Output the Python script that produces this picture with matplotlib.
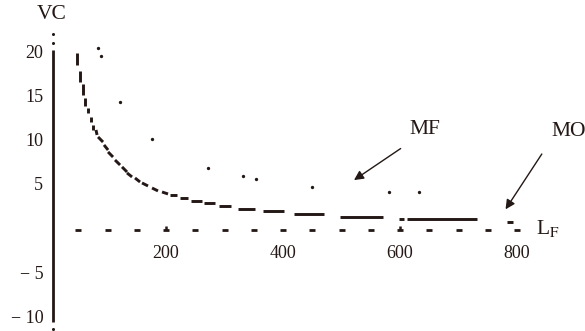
#
#  Break-even style sketch: VC against L_F, with the MF curve
#  (drawn as short dashes), a few scattered MF points and the MO point.
#
import numpy as np
import matplotlib
matplotlib.use('Agg')
import matplotlib.pyplot as plt
from matplotlib.collections import LineCollection

plt.rcParams['font.family'] = ['Liberation Serif', 'DejaVu Serif']
plt.rcParams['mathtext.fontset'] = 'stix'
ink = '#231815'

# MF curve, one dash per entry (start -> end)
curve_lf_start = [48.4, 53.0, 57.6, 62.1, 66.7, 71.3, 75.7, 80.3, 83.8, 94.0,
                  100.9, 112.8, 124.8, 133.3, 147.0, 159.0, 176.1, 193.2, 206.8, 223.9,
                  242.7, 265.0, 290.6, 323.1, 365.8, 418.8, 497.4, 598.3, 612.0]
curve_lf_end = [48.4, 53.0, 57.6, 62.1, 66.7, 71.3, 75.7, 82.1, 92.3, 100.9,
                109.4, 121.4, 133.3, 141.9, 155.6, 169.2, 186.3, 203.4, 218.8, 237.6,
                261.5, 283.8, 311.1, 352.1, 401.7, 470.1, 570.9, 606.8, 731.6]
curve_vc_start = [20.04, 18.01, 16.51, 14.97, 13.80, 12.82, 11.88, 11.32, 10.53, 9.63,
                  8.84, 7.93, 7.15, 6.47, 5.90, 5.34, 4.77, 4.32, 3.98, 3.65,
                  3.34, 3.08, 2.74, 2.44, 2.18, 1.84, 1.53, 1.28, 1.28]
curve_vc_end = [18.65, 16.77, 15.27, 14.03, 13.23, 12.26, 11.32, 10.76, 9.96, 9.06,
                8.27, 7.37, 6.58, 6.02, 5.45, 5.00, 4.44, 4.10, 3.98, 3.65,
                3.34, 3.08, 2.74, 2.44, 2.18, 1.84, 1.53, 1.28, 1.28]

# scattered points above the curve
dots_lf = [84.3, 88.9, 121.4, 175.6, 272.3, 331.1, 353.8, 450.1, 581.7, 633.0]
dots_vc = [20.61, 19.67, 14.51, 10.30, 7.00, 6.13, 5.79, 4.89, 4.29, 4.29]

# MO mark
mo_lf = [783.0, 793.0]
mo_vc = [0.97, 0.97]

# axes
y_axis_lf = 6.8
y_axis_range = [-10.34, 20.35]
y_axis_dots = [22.16, 21.14, -11.12]
x_dash_lf = np.arange(50, 801, 50)
x_ticks = [200, 400, 600, 800]
x_tick_marks = [200, 600]
y_ticks = [20, 15, 10, 5, -5, -10]
y_tick_labels = ['20', '15', '10', '5', '\u2212 5', '\u2212 10']

fig = plt.figure(figsize=(5.85, 3.31), dpi=100)
ax = fig.add_axes([0, 0, 1, 1])
ax.set_xlim(-83.8, 916.2)
ax.set_ylim(-11.37, 25.99)
ax.axis('off')

# y axis as a thick line plus the loose dots at its ends
ax.plot([y_axis_lf, y_axis_lf], y_axis_range, color=ink, lw=2.0, solid_capstyle='butt')
ax.plot([y_axis_lf] * len(y_axis_dots), y_axis_dots, 'o', color=ink, ms=2.2, mew=0)

# x axis is just short dashes every 50
ax.plot(x_dash_lf, np.zeros(len(x_dash_lf)), '_', color=ink, ms=4.0, mew=2.0)
ax.plot(x_tick_marks, np.full(len(x_tick_marks), 0.25), '|', color=ink, ms=2.5, mew=1.8)

# MF curve
segs = [[(a, c), (b, d)] for a, b, c, d in
        zip(curve_lf_start, curve_lf_end, curve_vc_start, curve_vc_end)]
ax.add_collection(LineCollection(segs, colors=ink, linewidths=2.1, capstyle='butt'))
ax.plot(dots_lf, dots_vc, 'o', color=ink, ms=2.4, mew=0)
ax.plot(mo_lf, mo_vc, '-', color=ink, lw=2.1, solid_capstyle='butt')

# tick labels
for v, s in zip(y_ticks, y_tick_labels):
    ax.text(-10, v, s, ha='right', va='center', fontsize=13, color=ink)
for v in x_ticks:
    ax.text(v, -2.6, str(v), ha='center', va='center', fontsize=13, color=ink)

ax.text(5, 24.3, 'VC', ha='center', va='center', fontsize=15.5, color=ink)
ax.text(852, 0.2, r'L$_{\mathrm{F}}$', ha='center', va='center', fontsize=15.5, color=ink)

# labels with arrows
ax.text(643, 11.4, 'MF', ha='center', va='center', fontsize=15.5, color=ink)
ax.annotate('', xy=(517.4, 5.49), xytext=(605, 9.40),
            arrowprops=dict(arrowstyle='-|>', color=ink, lw=1.0, mutation_scale=14))
ax.text(889, 11.1, 'MO', ha='center', va='center', fontsize=15.5, color=ink)
ax.annotate('', xy=(777.8, 2.10), xytext=(845, 8.87),
            arrowprops=dict(arrowstyle='-|>', color=ink, lw=1.0, mutation_scale=14))

plt.savefig('out.png', dpi=100)
